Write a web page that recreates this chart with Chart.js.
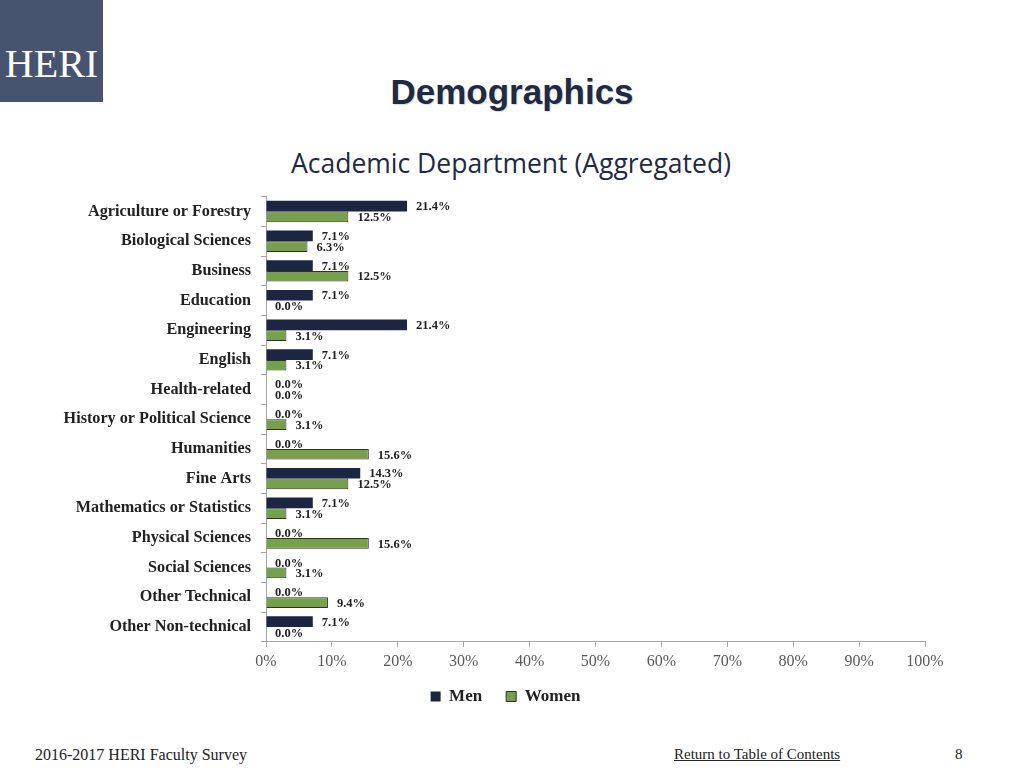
<!DOCTYPE html>
<html>
<head>
<meta charset="utf-8">
<script src="https://cdn.jsdelivr.net/npm/chart.js@4/dist/chart.umd.min.js"></script>
<style>
  body { margin: 0; width: 1024px; height: 768px; position: relative; background: #fff; overflow: hidden; }
  #logo { position: absolute; left: 0; top: 0; width: 103px; height: 102px; background: #46546f; color: #fff;
          font-family: "Liberation Serif", serif; font-size: 40px; text-align: center; line-height: 128px; }
  #title { position: absolute; left: 0; width: 1024px; top: 72px; text-align: center; color: #1f2a44;
           font-family: "Liberation Sans", Arial, sans-serif; font-weight: bold; font-size: 35px;
           text-shadow: 1px 1px 1px rgba(0,0,0,0.15); }
  #subtitle { position: absolute; left: 0; width: 1022px; top: 145px; text-align: center; color: #1f2a44;
              font-family: "Open Sans", sans-serif; font-size: 26.5px; font-weight: 500; }
  #wrap { position: absolute; left: 0; top: 177px; width: 1024px; height: 558px; }
  .foot { position: absolute; top: 746px; font-family: "Liberation Serif", serif; font-size: 15px; color: #222; }
</style>
</head>
<body>
<div id="logo">HERI</div>
<div id="title">Demographics</div>
<div id="subtitle">Academic Department (Aggregated)</div>
<div id="wrap"><canvas id="chart" width="1024" height="558"></canvas></div>
<div class="foot" style="left:35px; font-size:16px;">2016-2017 HERI Faculty Survey</div>
<div class="foot" style="left:674px; text-decoration: underline;">Return to Table of Contents</div>
<div class="foot" style="left:955px;">8</div>
<script>
'use strict';

var departments = ['Agriculture or Forestry', 'Biological Sciences', 'Business', 'Education', 'Engineering',
    'English', 'Health-related', 'History or Political Science', 'Humanities', 'Fine Arts',
    'Mathematics or Statistics', 'Physical Sciences', 'Social Sciences', 'Other Technical', 'Other Non-technical'];
var menValues = [21.4, 7.1, 7.1, 7.1, 21.4, 7.1, 0.0, 0.0, 0.0, 14.3, 7.1, 0.0, 0.0, 0.0, 7.1];
var womenValues = [12.5, 6.3, 12.5, 0.0, 3.1, 3.1, 0.0, 3.1, 15.6, 12.5, 3.1, 15.6, 3.1, 9.4, 0.0];
var xTicks = [0, 10, 20, 30, 40, 50, 60, 70, 80, 90, 100];

var serif = '"Liberation Serif", "Times New Roman", serif';

// value labels at the end of each bar
var valueLabels = {
    id: 'valueLabels',
    afterDatasetsDraw: function(chart) {
        var ctx = chart.ctx;
        ctx.save();
        ctx.font = 'bold 12.5px ' + serif;
        ctx.fillStyle = '#222';
        ctx.textBaseline = 'middle';
        ctx.textAlign = 'left';
        chart.data.datasets.forEach(function(ds, i) {
            var meta = chart.getDatasetMeta(i);
            meta.data.forEach(function(bar, j) {
                ctx.fillText(ds.data[j].toFixed(1) + '%', bar.x + 9, bar.y + 1);
            });
        });
        ctx.restore();
    }
};

// nudge the legend a bit right and up, like the slide
var legendNudge = {
    id: 'legendNudge',
    afterLayout: function(chart) {
        var lg = chart.legend;
        lg.left += 43;
        lg.right += 43;
        lg.top -= 12;
        lg.bottom -= 12;
    }
};

var ctx = document.getElementById('chart').getContext('2d');
var chart = new Chart(ctx, {
    type: 'bar',
    data: {
        labels: departments,
        datasets: [
            {
                label: 'Men',
                data: menValues,
                backgroundColor: '#1c2541',
                borderColor: '#1c2541',
                borderWidth: 0
            },
            {
                label: 'Women',
                data: womenValues,
                backgroundColor: '#77a04a',
                borderColor: '#2b3520',
                borderWidth: 1
            }
        ]
    },
    options: {
        indexAxis: 'y',
        responsive: false,
        animation: false,
        layout: { padding: { top: 0, right: 99, bottom: 8 } },
        datasets: { bar: { categoryPercentage: 0.72, barPercentage: 1.0 } },
        scales: {
            x: {
                min: 0,
                max: 100,
                afterBuildTicks: function(scale) {
                    scale.ticks = xTicks.map(function(v) { return { value: v }; });
                },
                ticks: {
                    callback: function(v) { return v + '%'; },
                    color: '#595959',
                    font: { family: serif, size: 16 },
                    padding: 5,
                    maxRotation: 0
                },
                grid: { drawOnChartArea: false, tickLength: 5, color: '#a6a6a6' },
                border: { color: '#a6a6a6' }
            },
            y: {
                afterFit: function(scale) { scale.width = 266; },
                ticks: {
                    color: '#222',
                    font: { family: serif, size: 16.2, weight: 'bold' },
                    padding: 10
                },
                grid: { drawOnChartArea: false, tickLength: 5, offset: true, color: '#a6a6a6' },
                border: { color: '#a6a6a6' }
            }
        },
        plugins: {
            legend: {
                position: 'bottom',
                labels: {
                    boxWidth: 10,
                    boxHeight: 10,
                    padding: 24,
                    color: '#222',
                    font: { family: serif, size: 17, weight: 'bold' }
                }
            },
            tooltip: { enabled: false }
        }
    },
    plugins: [valueLabels, legendNudge]
});
</script>
</body>
</html>
